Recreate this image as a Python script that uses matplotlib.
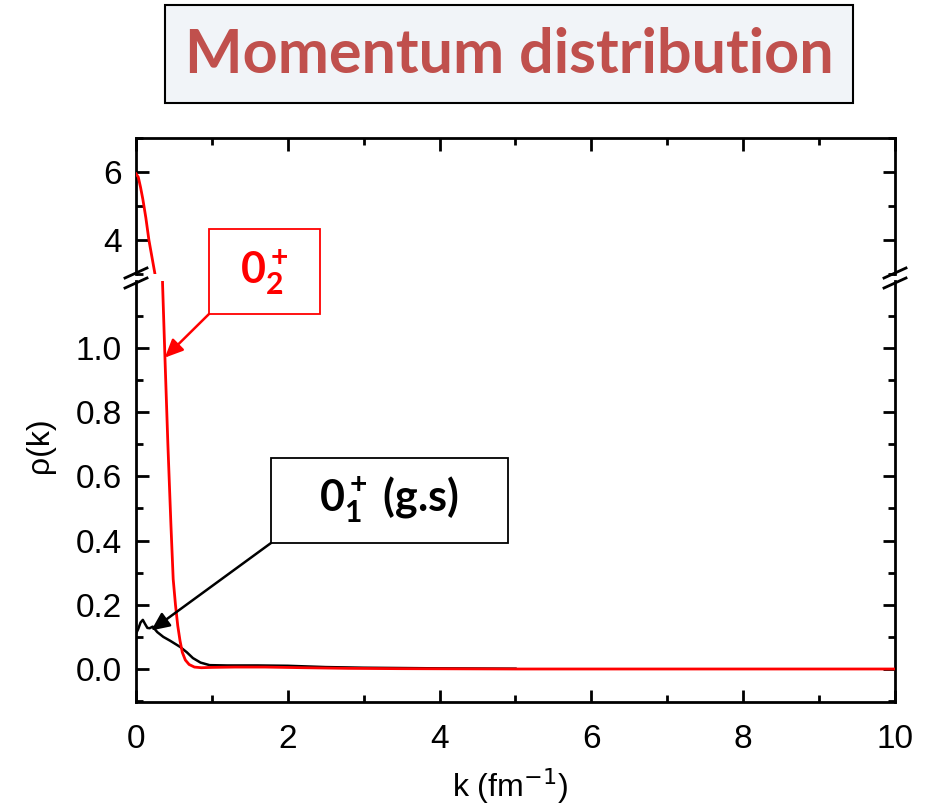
import numpy as np
import matplotlib.pyplot as plt
from matplotlib.patches import Rectangle
from matplotlib.lines import Line2D
from matplotlib.ticker import MultipleLocator, FixedLocator, FormatStrFormatter

plt.rcParams['font.family'] = ['Liberation Sans', 'DejaVu Sans']
plt.rcParams['mathtext.fontset'] = 'custom'
plt.rcParams['mathtext.rm'] = 'Lato'
plt.rcParams['mathtext.bf'] = 'Lato:bold'
plt.rcParams['mathtext.it'] = 'Lato:italic'

W, H = 928, 811

# 0_2+ state (red)
k_02 = [0.0, 0.03, 0.06, 0.09, 0.13, 0.17, 0.21, 0.25, 0.35, 0.38, 0.42, 0.46,
        0.49, 0.52, 0.55, 0.58, 0.61, 0.65, 0.70, 0.77, 0.86, 1.0, 1.3, 1.7,
        2.2, 2.8, 3.5, 5.0, 7.0, 10.0]
rho_02 = [5.95, 5.85, 5.55, 5.2, 4.65, 4.0, 3.5, 3.0, 1.2, 0.98, 0.7, 0.45,
          0.28, 0.2, 0.135, 0.088, 0.052, 0.028, 0.014, 0.006, 0.004, 0.005, 0.006, 0.006,
          0.004, 0.002, 0.001, 0.0, 0.0, 0.0]

# 0_1+ ground state (black)
k_01 = [0.0, 0.03, 0.06, 0.09, 0.12, 0.15, 0.18, 0.22, 0.28, 0.36, 0.45, 0.58,
        0.67, 0.75, 0.85, 0.97, 1.2, 1.6, 2.0, 2.5, 3.0, 4.0, 5.0]
rho_01 = [0.11, 0.125, 0.145, 0.153, 0.14, 0.128, 0.127, 0.132, 0.115, 0.1, 0.088, 0.069,
          0.052, 0.034, 0.02, 0.012, 0.011, 0.011, 0.01, 0.006, 0.004, 0.002, 0.001]

y_ticks_bottom = [0.0, 0.2, 0.4, 0.6, 0.8, 1.0]
y_minor_bottom = [-0.1, 0.1, 0.3, 0.5, 0.7, 0.9, 1.1]


def fx(x):
    return x / W


def fy(y):
    return 1 - y / H


fig = plt.figure(figsize=(9.28, 8.11), dpi=100)

ax_top = fig.add_axes([fx(136), fy(274), 759 / W, 136 / H])
ax_bot = fig.add_axes([fx(136), fy(702), 759 / W, 421 / H])

for ax in (ax_top, ax_bot):
    ax.plot(k_01, rho_01, color='black', lw=1.8, zorder=2)
    ax.plot(k_02, rho_02, color='red', lw=2.0, zorder=3)
    ax.set_xlim(0, 10)
    ax.xaxis.set_major_locator(MultipleLocator(2))
    ax.xaxis.set_minor_locator(MultipleLocator(1))
    ax.tick_params(which='both', direction='in', width=2, top=True, right=True,
                   labelsize=24, pad=10)
    ax.tick_params(which='major', length=9)
    ax.tick_params(which='minor', length=5)
    for s in ax.spines.values():
        s.set_linewidth(2)

ax_top.set_ylim(3, 7)
ax_top.yaxis.set_major_locator(MultipleLocator(2))
ax_top.yaxis.set_minor_locator(MultipleLocator(1))
ax_top.spines['bottom'].set_visible(False)
ax_top.tick_params(axis='x', which='both', bottom=False, labelbottom=False)

ax_bot.set_ylim(-0.1028, 1.2087)
ax_bot.yaxis.set_major_locator(FixedLocator(y_ticks_bottom))
ax_bot.yaxis.set_minor_locator(FixedLocator(y_minor_bottom))
ax_bot.yaxis.set_major_formatter(FormatStrFormatter('%.1f'))
ax_bot.spines['top'].set_visible(False)
ax_bot.tick_params(axis='x', which='both', top=False, pad=16)

# break marks
for x0 in (125, 884):
    for y0 in (278, 288):
        fig.add_artist(Line2D([fx(x0), fx(x0 + 22)], [fy(y0), fy(y0 - 10)],
                              color='black', lw=2, transform=fig.transFigure))

fig.text(fx(510), fy(786), r'k (fm$^{-1}$)', fontsize=23, ha='center', va='center',
         math_fontfamily='dejavusans')
fig.text(fx(40), fy(445), 'ρ(k)', fontsize=23, rotation=90, ha='center', va='center')

# title box
fig.add_artist(Rectangle((fx(165), fy(103)), 688 / W, 98 / H, transform=fig.transFigure,
                         facecolor='#f1f4f8', edgecolor='black', lw=1.5))
fig.text(fx(509), fy(55), 'Momentum distribution', fontsize=44, fontfamily='Lato',
         fontweight='bold', color='#c0504d', ha='center', va='center')

# label boxes
fig.add_artist(Rectangle((fx(209), fy(314)), 111 / W, 85 / H, transform=fig.transFigure,
                         facecolor='white', edgecolor='red', lw=1.3))
fig.text(fx(264), fy(272), r'$\mathbf{0_2^+}$', fontsize=31, color='red',
         ha='center', va='center')

fig.add_artist(Rectangle((fx(271), fy(543)), 237 / W, 85 / H, transform=fig.transFigure,
                         facecolor='white', edgecolor='black', lw=1.3))
fig.text(fx(389), fy(500), r'$\mathbf{0_1^+}$ (g.s)', fontsize=31, color='black',
         fontfamily='Lato', fontweight='bold', ha='center', va='center')

ax_bot.annotate('', xy=(0.38, 0.97), xytext=(209, H - 314), textcoords='figure pixels',
                arrowprops=dict(arrowstyle='-|>,head_length=1.1,head_width=0.5',
                                color='red', lw=1.8, shrinkA=0, shrinkB=0),
                annotation_clip=False)
ax_bot.annotate('', xy=(0.2, 0.12), xytext=(271, H - 543), textcoords='figure pixels',
                arrowprops=dict(arrowstyle='-|>,head_length=1.1,head_width=0.5',
                                color='black', lw=1.8, shrinkA=0, shrinkB=0),
                annotation_clip=False)

fig.savefig('out.png', dpi=100)
